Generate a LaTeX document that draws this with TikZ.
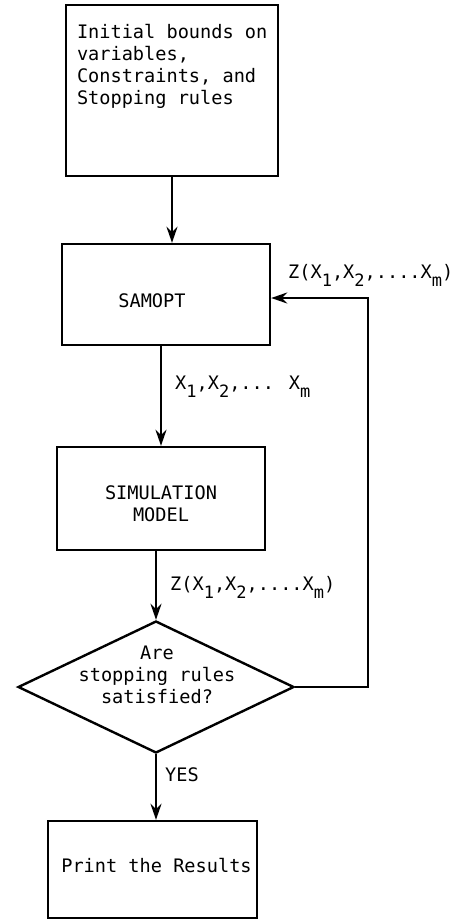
\documentclass[tikz,border=0pt]{standalone}
\usepackage{fontspec}
\setmainfont{DejaVu Sans Mono}
\usetikzlibrary{arrows.meta,shapes.geometric}
\newcommand\lsub[1]{\raisebox{-8pt}{\fontsize{17pt}{17pt}\selectfont #1}}
\tikzset{
  txt/.style={font=\fontsize{18.6pt}{22pt}\selectfont, inner sep=0pt},
  boxnode/.style={draw, line width=2.4pt, rectangle, inner sep=0pt},
  decnode/.style={draw, line width=2.4pt, diamond, inner sep=0pt},
  arr/.style={line width=2.2pt, -{Stealth[length=16pt,width=11pt]}},
}
\begin{document}
\begin{tikzpicture}[x=1pt,y=-1pt]
\useasboundingbox[fill=white] (0,0) rectangle (456,924);
\node[boxnode, minimum width=212pt, minimum height=171pt,
  label={[txt, anchor=north west, align=left, xshift=12pt, yshift=-20pt]north west:Initial bounds on\\variables,\\Constraints, and\\Stopping rules}]
  (init) at (172,90.5) {};
\node[boxnode, minimum width=208pt, minimum height=101pt,
  label={[txt, xshift=-14pt, yshift=-6pt]center:SAMOPT}]
  (samopt) at (166,294.5) {};
\node[boxnode, minimum width=208pt, minimum height=103pt,
  label={[txt, align=center, yshift=-5pt]center:SIMULATION\\MODEL}]
  (sim) at (161,498.5) {};
\node[decnode, minimum width=276pt, minimum height=132pt,
  label={[txt, align=center, yshift=12pt, xshift=1pt]center:Are\\stopping rules\\satisfied?}]
  (dec) at (156,687) {};
\node[boxnode, minimum width=209pt, minimum height=97pt,
  label={[txt, xshift=4pt, yshift=4pt]center:Print the Results}]
  (print) at (152.5,869.5) {};
\coordinate (fb) at (368,500);

\draw[arr] (init.south) -- (init.south |- samopt.north);
\draw[arr] (sim.north |- samopt.south) -- (sim.north);
\draw[arr] (dec.north |- sim.south) -- (dec.north);
\draw[arr] (dec.south) -- (dec.south |- print.north);
\draw[arr] (dec.east) -- (dec.east -| fb) |- ([yshift=-3.5pt]samopt.east);

\node[txt, anchor=west] (lx) at (175,387) {X\lsub{1},X\lsub{2},... X\lsub{m}};
\node[txt, anchor=west] (lz1) at (170,587) {Z(X\lsub{1},X\lsub{2},....X\lsub{m})};
\node[txt, anchor=west] (lz2) at (288,275) {Z(X\lsub{1},X\lsub{2},....X\lsub{m})};
\node[txt, anchor=west] (lyes) at (165,775) {YES};
\end{tikzpicture}
\end{document}
